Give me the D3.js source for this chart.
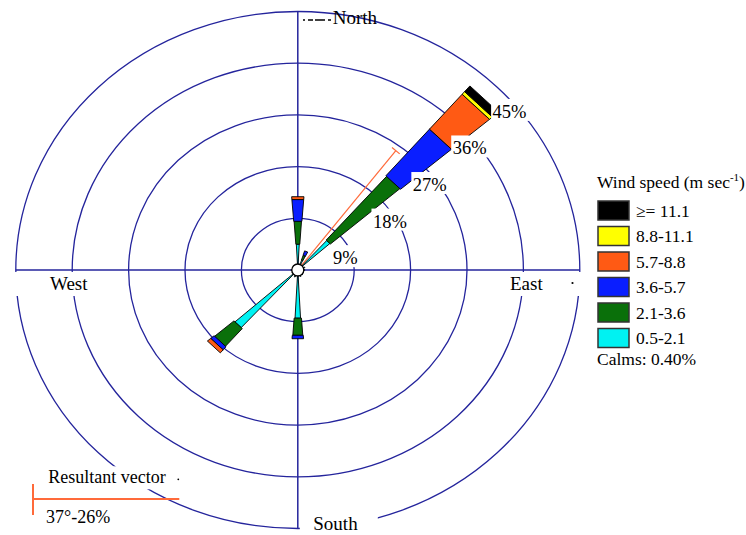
<!DOCTYPE html>
<html><head><meta charset="utf-8">
<script src="https://cdn.jsdelivr.net/npm/d3@7"></script>
<style>
body{margin:0;background:#fff}
svg{display:block}
</style>
</head><body><script>
// ---------------- data ----------------
const directions = ["N","NNE","NE","ENE","E","ESE","SE","SSE","S","SSW","SW","WSW","W","WNW","NW","NNW"];
const speedClasses = ["0.5-2.1","2.1-3.6","3.6-5.7","5.7-8.8","8.8-11.1","\u2265= 11.1"];
const classColors = ["#00F2F2","#0A700A","#0A1EFF","#FF5A14","#FFFF00","#000000"];
const freq_05_21  = [4.5,1.8,6.9,1.2,1.1,1.0,1.1,1.2,8.4,1.3,13.5,1.0,1.1,0.8,1.0,1.0];
const freq_21_36  = [4.0,0.9,14.7,0,0,0,0,0,3.0,0,4.1,0,0,0,0,0];
const freq_36_57  = [3.8,0.8,10.7,0,0,0,0,0,0.6,0,0.7,0,0,0,0,0];
const freq_57_88  = [0.5,0,8.0,0,0,0,0,0,0,0,0.7,0,0,0,0,0];
const freq_88_111 = [0,0,0.6,0,0,0,0,0,0,0,0,0,0,0,0,0];
const freq_ge111  = [0,0,1.3,0,0,0,0,0,0,0,0,0,0,0,0,0];
const ringTicks = [9,18,27,36,45];
const ringLabels = ["9%","18%","27%","36%","45%"];
const compassLabels = ["North","East","South","West"];
const calmsText = "Calms: 0.40%";
const legendTitle = "Wind speed (m sec";
const resultantDir = 37;
const resultantPct = 26;

// ---------------- setup ----------------
const FONT = "'Liberation Serif', 'DejaVu Serif', 'Times New Roman', Times, serif";
const W = 746, H = 535;
const cx = 297.8, cy = 270;
const svg = d3.select("body").append("svg").attr("width", W).attr("height", H)
  .attr("font-family", FONT).style("font-family", FONT);
svg.append("rect").attr("width", W).attr("height", H).attr("fill", "#fff");

const maxPct = d3.max(ringTicks);
const sx = d3.scaleLinear().domain([0, maxPct]).range([0, 282]);
const sy = d3.scaleLinear().domain([0, maxPct]).range([0, 258.5]);
const ang = d3.scaleLinear().domain([0, directions.length]).range([0, 360]);
const pt = (deg, v) => {
  const a = deg * Math.PI / 180;
  return [cx + sx(v) * Math.sin(a), cy - sy(v) * Math.cos(a)];
};
const gridColor = "#24249c";

function addText(parent, x, y, str, size) {
  return parent.append("text").attr("x", x).attr("y", y)
    .attr("font-family", FONT).style("font-family", FONT)
    .attr("font-size", size).attr("fill", "#000").text(str);
}

// rings
svg.append("g").selectAll("ellipse").data(ringTicks).join("ellipse")
  .attr("cx", cx).attr("cy", cy)
  .attr("rx", d => sx(d)).attr("ry", d => sy(d))
  .attr("fill", "none").attr("stroke", gridColor).attr("stroke-width", 1.3);

// axes
svg.append("line").attr("x1", cx - sx(maxPct)).attr("x2", cx + sx(maxPct))
  .attr("y1", cy).attr("y2", cy).attr("stroke", gridColor).attr("stroke-width", 1.5);
svg.append("line").attr("x1", cx).attr("x2", cx)
  .attr("y1", cy - sy(maxPct)).attr("y2", cy + sy(maxPct)).attr("stroke", gridColor).attr("stroke-width", 1.5);

// resultant vector on chart
const rEnd = pt(resultantDir, resultantPct);
{
  const dx = rEnd[0] - cx, dy = rEnd[1] - cy, L = Math.hypot(dx, dy);
  const px = -dy / L, py = dx / L;
  svg.append("line").attr("x1", cx).attr("y1", cy).attr("x2", rEnd[0]).attr("y2", rEnd[1])
    .attr("stroke", "#FF6A3A").attr("stroke-width", 1.2);
  svg.append("line").attr("x1", rEnd[0] - 5 * px).attr("y1", rEnd[1] - 5 * py)
    .attr("x2", rEnd[0] + 5 * px).attr("y2", rEnd[1] + 5 * py)
    .attr("stroke", "#FF6A3A").attr("stroke-width", 1.2);
}

// petals
const keys = ["c0","c1","c2","c3","c4","c5"];
const seriesArrays = [freq_05_21, freq_21_36, freq_36_57, freq_57_88, freq_88_111, freq_ge111];
const rows = directions.map((d, i) => {
  const r = {dir: d, idx: i};
  keys.forEach((k, j) => r[k] = seriesArrays[j][i]);
  return r;
});
const stacked = d3.stack().keys(keys)(rows);
const halfW = [3.0, 4.0, 4.4, 4.4, 4.4, 4.4];
const lineGen = d3.line().curve(d3.curveLinearClosed);
const petalG = svg.append("g");
stacked.forEach((ser, j) => {
  ser.forEach(seg => {
    const [v0, v1] = seg;
    if (v1 - v0 <= 0) return;
    const a = ang(seg.data.idx), hw = halfW[j];
    const pts = [pt(a - hw, v0), pt(a - hw, v1), pt(a + hw, v1), pt(a + hw, v0)];
    petalG.append("path").attr("d", lineGen(pts))
      .attr("fill", classColors[j]).attr("stroke", "#000").attr("stroke-width", 0.9)
      .attr("stroke-linejoin", "miter");
  });
});

// calm circle
svg.append("circle").attr("cx", cx).attr("cy", cy).attr("r", 6)
  .attr("fill", "#fff").attr("stroke", "#000").attr("stroke-width", 1.3);

// helper: text with white box
function boxedText(x, y, str, size, padL, padR, top, bottom) {
  const g = svg.append("g");
  const rect = g.append("rect").attr("fill", "#fff");
  const t = addText(g, x, y, str, size);
  const w = t.node().getComputedTextLength();
  rect.attr("x", x - padL).attr("y", y - top).attr("width", w + padL + padR).attr("height", top + bottom);
  return t;
}

// ring labels
ringTicks.forEach((t, k) => {
  const p = pt(45, t);
  boxedText(p[0] - 4.6, p[1] + 30.7, ringLabels[k], "18.5px", 1.5, 7, 19, 3);
});

// compass labels
svg.append("line").attr("x1", 303).attr("x2", 331).attr("y1", 20).attr("y2", 20)
  .attr("stroke", "#000").attr("stroke-width", 1.3).attr("stroke-dasharray", "2,3,5,2,8,0");
addText(svg, 332.7, 24, compassLabels[0], "19px");
svg.append("rect").attr("x", cx + 207).attr("y", 272).attr("width", 78).attr("height", 24).attr("fill", "#fff");
addText(svg, 510, 290, compassLabels[1], "19px");
svg.append("circle").attr("cx", 572.5).attr("cy", 283).attr("r", 1.1).attr("fill", "#000");
svg.append("rect").attr("x", cx + 2).attr("y", 506).attr("width", 78).attr("height", 29).attr("fill", "#fff");
addText(svg, 313.3, 530, compassLabels[2], "19px");
svg.append("rect").attr("x", cx - 284).attr("y", 272).attr("width", 78).attr("height", 24).attr("fill", "#fff");
addText(svg, 50, 290, compassLabels[3], "19px");

// legend
const lg = svg.append("g");
const title = addText(lg, 597, 188, null, "17.5px");
title.append("tspan").text(legendTitle);
title.append("tspan").attr("font-size", "11px").attr("dy", -7).text("-1");
title.append("tspan").attr("dy", 7).text(")");
const legendOrder = d3.range(speedClasses.length).reverse();
legendOrder.forEach((ci, i) => {
  const y = 201 + 25.5 * i;
  lg.append("rect").attr("x", 598).attr("y", y).attr("width", 31).attr("height", 19)
    .attr("fill", classColors[ci]).attr("stroke", "#333").attr("stroke-width", 1.5);
  addText(lg, 636, y + 15.8, speedClasses[ci], "17.5px");
});
addText(lg, 597, 365, calmsText, "17.5px");

// resultant vector legend
boxedText(48.3, 483.3, "Resultant vector", "18px", 3, 4, 17, 6);
svg.append("circle").attr("cx", 178.3).attr("cy", 479.3).attr("r", 0.9).attr("fill", "#000");
svg.append("line").attr("x1", 32.7).attr("x2", 179.3).attr("y1", 499).attr("y2", 499)
  .attr("stroke", "#FF6A3A").attr("stroke-width", 2);
svg.append("line").attr("x1", 33).attr("x2", 33).attr("y1", 484).attr("y2", 515)
  .attr("stroke", "#FF6A3A").attr("stroke-width", 2);
addText(svg, 46, 522.7, resultantDir + "\u00B0-" + resultantPct + "%", "18px");
</script></body></html>
